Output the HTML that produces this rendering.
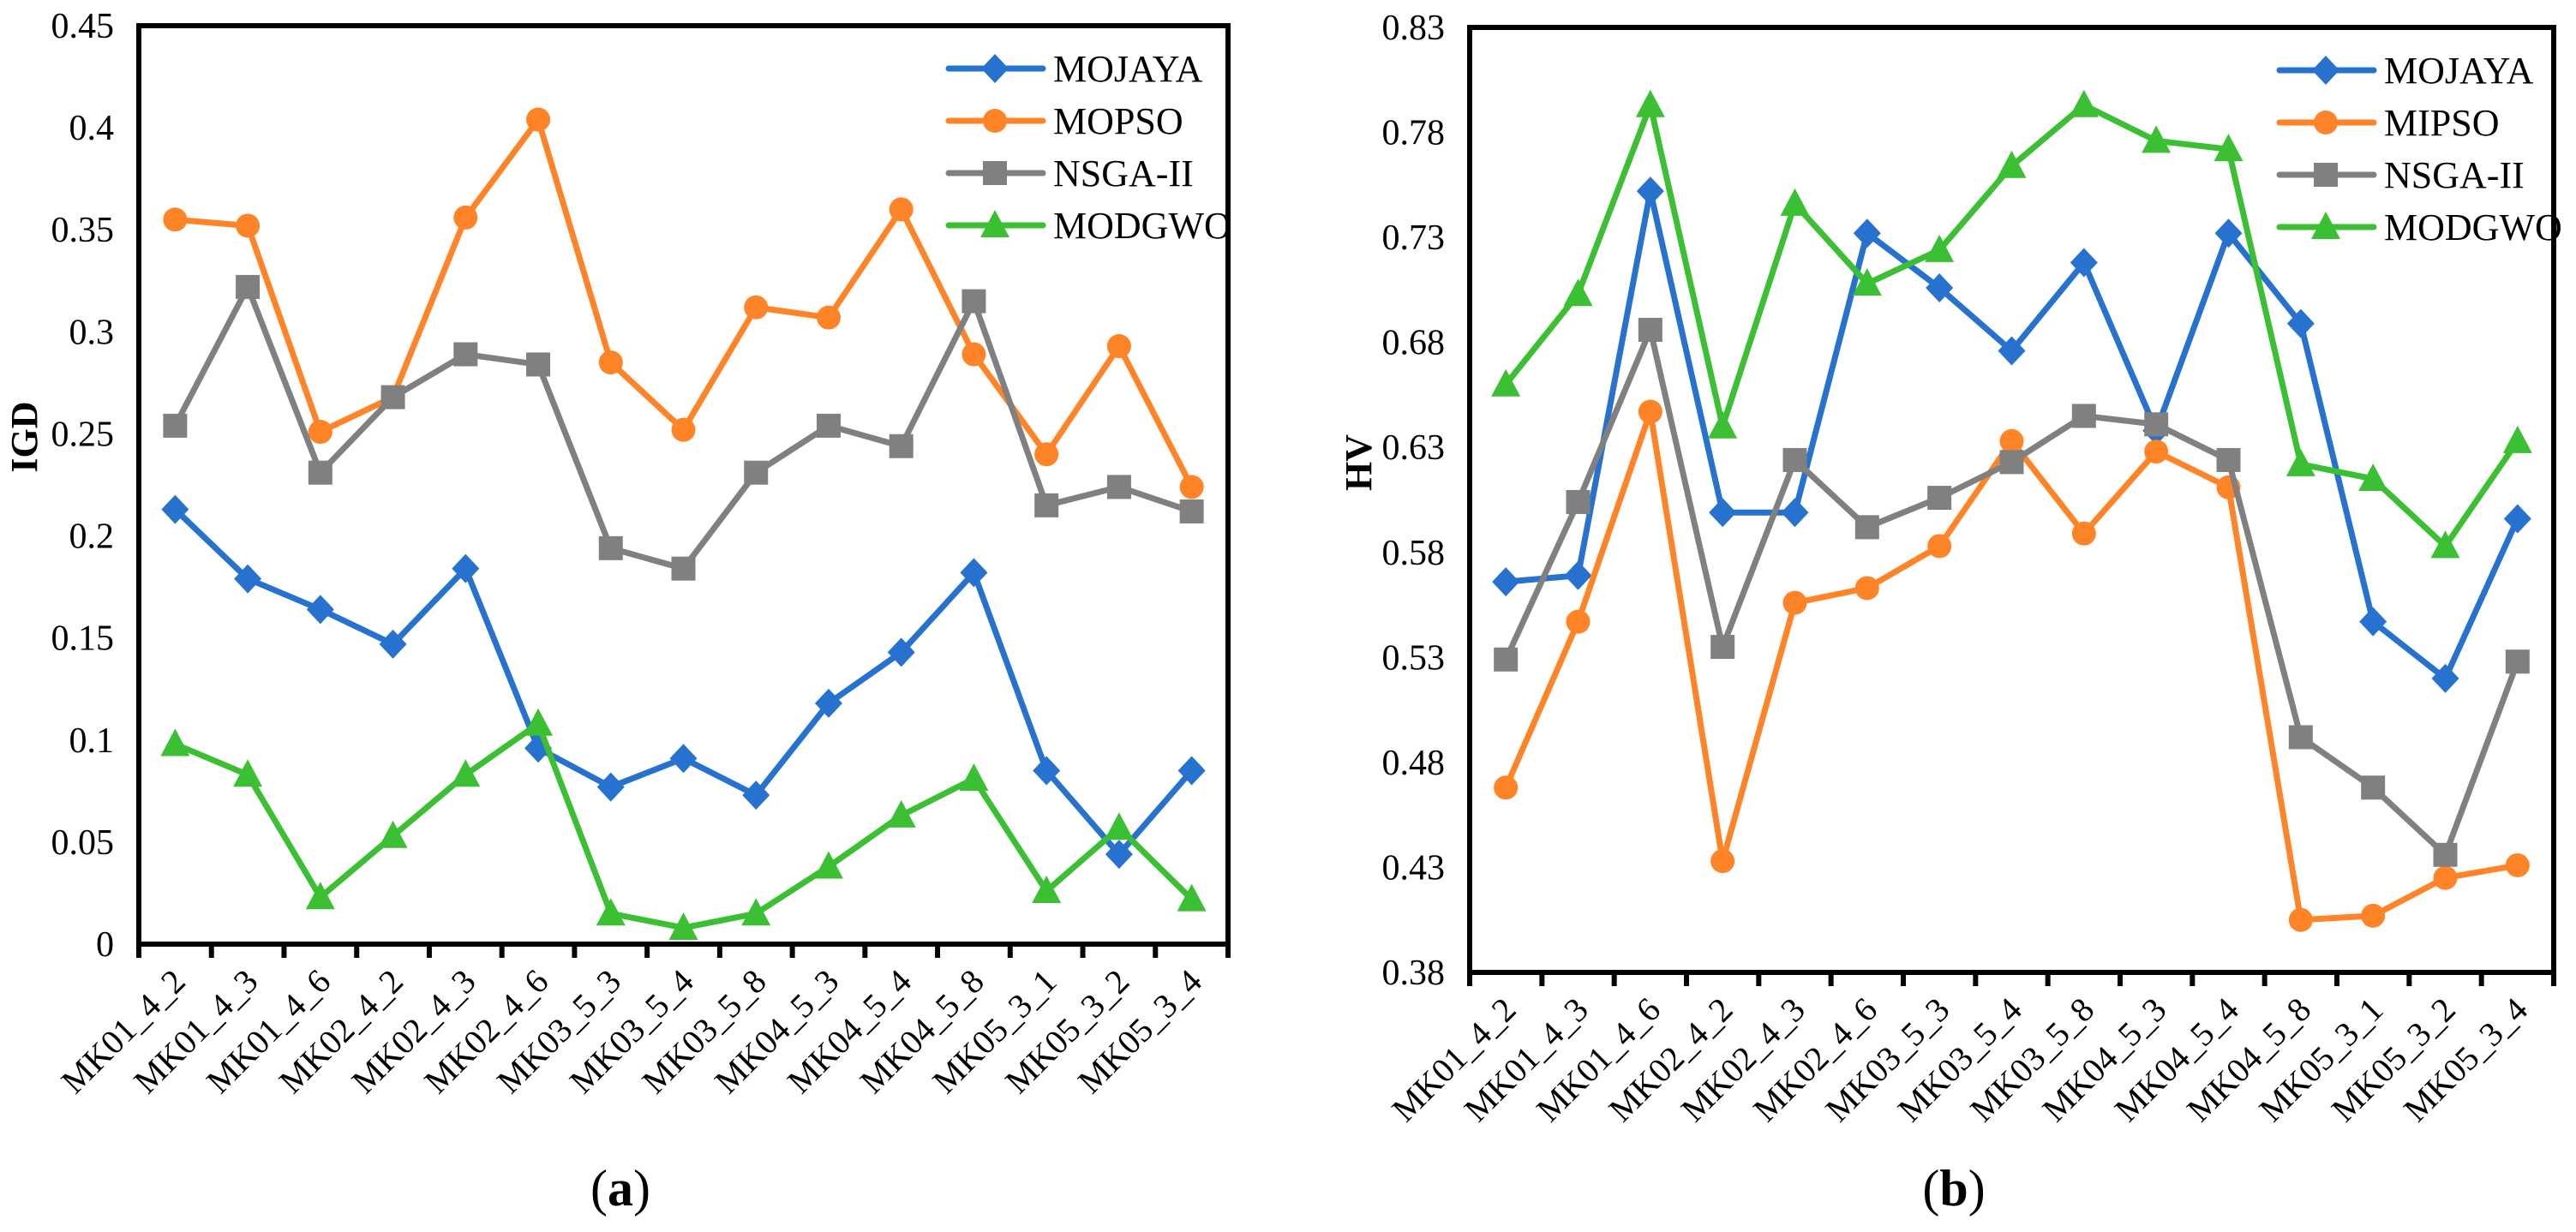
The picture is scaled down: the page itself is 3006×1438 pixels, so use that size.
<!DOCTYPE html>
<html><head><meta charset="utf-8"><style>
html,body{margin:0;padding:0;background:#fff;}
svg{display:block;}
svg text{font-family:"Liberation Serif","DejaVu Serif","Noto Serif CJK SC",serif;}
</style></head><body>
<svg id="fig" width="3006" height="1438" viewBox="0 0 3006 1438" xmlns="http://www.w3.org/2000/svg"></svg>
<script>
const categories = ["MK01_4_2","MK01_4_3","MK01_4_6","MK02_4_2","MK02_4_3","MK02_4_6","MK03_5_3","MK03_5_4","MK03_5_8","MK04_5_3","MK04_5_4","MK04_5_8","MK05_3_1","MK05_3_2","MK05_3_4"];
const igdMojaya = [0.213,0.179,0.164,0.147,0.184,0.096,0.077,0.091,0.073,0.118,0.143,0.182,0.085,0.044,0.085];
const igdMopso = [0.355,0.352,0.251,0.268,0.356,0.404,0.285,0.252,0.312,0.307,0.360,0.289,0.240,0.293,0.224];
const igdNsga = [0.254,0.322,0.231,0.268,0.289,0.284,0.194,0.184,0.231,0.254,0.244,0.315,0.215,0.224,0.212];
const igdModgwo = [0.098,0.083,0.023,0.053,0.083,0.108,0.015,0.008,0.015,0.038,0.063,0.081,0.026,0.057,0.022];
const igdTicks = ["0","0.05","0.1","0.15","0.2","0.25","0.3","0.35","0.4","0.45"];
const hvMojaya = [0.566,0.569,0.752,0.599,0.599,0.732,0.706,0.676,0.718,0.638,0.732,0.689,0.547,0.520,0.596];
const hvMipso = [0.468,0.547,0.647,0.433,0.556,0.563,0.583,0.633,0.589,0.628,0.611,0.405,0.407,0.425,0.431];
const hvNsga = [0.529,0.604,0.686,0.535,0.624,0.592,0.606,0.623,0.645,0.641,0.624,0.492,0.468,0.436,0.528];
const hvModgwo = [0.660,0.703,0.793,0.640,0.746,0.708,0.724,0.764,0.793,0.776,0.772,0.622,0.615,0.583,0.633];
const hvTicks = ["0.38","0.43","0.48","0.53","0.58","0.63","0.68","0.73","0.78","0.83"];

const NS="http://www.w3.org/2000/svg";
const svg=document.getElementById('fig');
function mk(tag,attrs,parent){const e=document.createElementNS(NS,tag);for(const k in attrs)e.setAttribute(k,attrs[k]);if(tag==='text')e.style.fontFamily='"Liberation Serif","DejaVu Serif","Noto Serif CJK SC",serif';(parent||svg).appendChild(e);return e;}
const COL={blue:"#2672CE",orange:"#FF8327",gray:"#808080",green:"#3BBF33"};

function marker(g,shape,x,y,c){
  let m;
  if(shape==='diamond')m=mk('polygon',{points:`${x},${y-17} ${x+16},${y} ${x},${y+17} ${x-16},${y}`,fill:c},g);
  else if(shape==='circle')m=mk('circle',{cx:x,cy:y,r:14,fill:c},g);
  else if(shape==='square')m=mk('rect',{x:x-14,y:y-14,width:28,height:28,fill:c},g);
  else m=mk('polygon',{points:`${x},${y-18} ${x+17},${y+14} ${x-17},${y+14}`,fill:c},g);
  return m;
}

function chart(opt){
  const {id,L,R,T,B,min,max,ticks,series,ylabel,ylx,yly,tickEnd,caption,capx,legX}=opt;
  const root=mk('g',{});
  
  
  const step=(R-L)/categories.length;
  const xs=i=>L+step*(i+0.5);
  const ys=v=>B-(v-min)/(max-min)*(B-T);
  const yt=mk('g',{},root);
  
  
  ticks.forEach(t=>{
    const e=mk('text',{x:tickEnd,y:ys(parseFloat(t))+14,'text-anchor':'end','font-size':42,fill:'#000'},yt);
    e.textContent=t;
  });
  const yl=mk('text',{x:ylx,y:yly+15,'font-size':44,'font-weight':'bold','text-anchor':'middle',transform:`rotate(-90 ${ylx} ${yly})`},root);
  
  
  yl.textContent=ylabel;
  const xt=mk('g',{},root);
  
  
  categories.forEach((c,i)=>{
    const x=xs(i)+14,y=B+46;
    const e=mk('text',{x:x,y:y,'text-anchor':'end','font-size':40,transform:`rotate(-45 ${x} ${y})`},xt);
    e.textContent=c;
  });
  series.forEach(s=>{
    const g=mk('g',{},root);
    
    
    const pts=s.vals.map((v,i)=>xs(i)+','+ys(v)).join(' ');
    mk('polyline',{points:pts,fill:'none',stroke:s.color,'stroke-width':7,'stroke-linejoin':'round'},g);
    s.vals.forEach((v,i)=>{
      const m=marker(g,s.shape,xs(i),ys(v),s.color);
      
      
    });
  });
  const fr=mk('g',{},root);
  
  
  mk('rect',{x:L,y:T,width:R-L,height:B-T,fill:'none',stroke:'#000','stroke-width':6},fr);
  for(let i=0;i<=categories.length;i++){
    const x=L+step*i;
    mk('line',{x1:x,y1:B,x2:x,y2:B+16,stroke:'#000','stroke-width':6},fr);
  }
  const lg=mk('g',{},root);
  
  
  series.forEach((s,k)=>{
    const y=T+50+k*61;
    const it=mk('g',{},lg);
    
    
    mk('line',{x1:legX,y1:y,x2:legX+110,y2:y,stroke:s.color,'stroke-width':7,'stroke-linecap':'round'},it);
    marker(it,s.shape,legX+54,y,s.color);
    const t=mk('text',{x:legX+122,y:y+15,'font-size':44},it);
    t.textContent=s.name;
  });
  const cp=mk('text',{x:capx,y:1407,'font-size':60,'text-anchor':'middle'},root);
  
  
  const t1=document.createElementNS(NS,'tspan');t1.textContent='(';cp.appendChild(t1);
  const t2=document.createElementNS(NS,'tspan');t2.setAttribute('font-weight','bold');t2.textContent=caption;cp.appendChild(t2);
  const t3=document.createElementNS(NS,'tspan');t3.textContent=')';cp.appendChild(t3);
}

chart({id:'igd',L:162,R:1433,T:30,B:1102,min:0,max:0.45,ticks:igdTicks,ylabel:'IGD',ylx:28,yly:510,tickEnd:133,caption:'a',capx:724,legX:1107,
  series:[{name:'MOJAYA',vals:igdMojaya,color:COL.blue,shape:'diamond'},
          {name:'MOPSO',vals:igdMopso,color:COL.orange,shape:'circle'},
          {name:'NSGA-II',vals:igdNsga,color:COL.gray,shape:'square'},
          {name:'MODGWO',vals:igdModgwo,color:COL.green,shape:'triangle'}]});
chart({id:'hv',L:1715,R:2980,T:32,B:1135,min:0.38,max:0.83,ticks:hvTicks,ylabel:'HV',ylx:1585,yly:540,tickEnd:1686,caption:'b',capx:2280,legX:2660,
  series:[{name:'MOJAYA',vals:hvMojaya,color:COL.blue,shape:'diamond'},
          {name:'MIPSO',vals:hvMipso,color:COL.orange,shape:'circle'},
          {name:'NSGA-II',vals:hvNsga,color:COL.gray,shape:'square'},
          {name:'MODGWO',vals:hvModgwo,color:COL.green,shape:'triangle'}]});
</script>
</body></html>
